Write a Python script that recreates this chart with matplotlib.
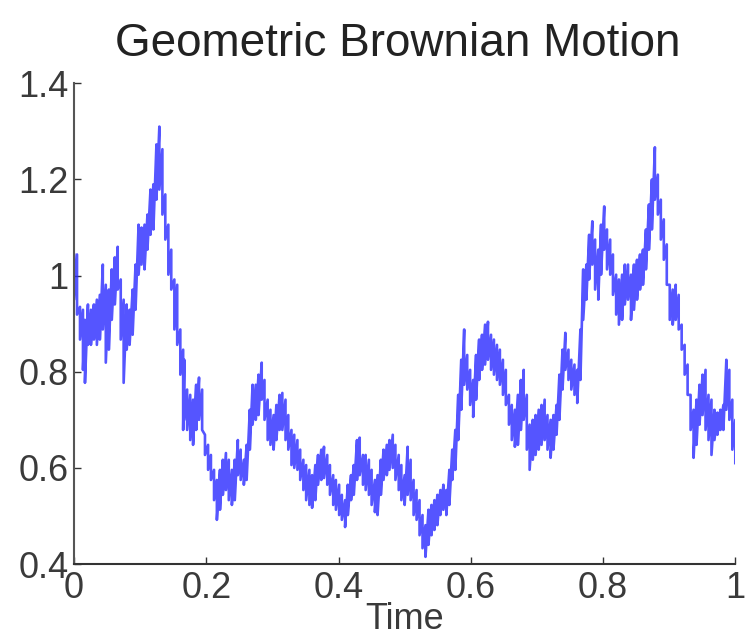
import numpy as np
import matplotlib
matplotlib.use("Agg")
import matplotlib.pyplot as plt


## Path: for each time, the top and bottom of the noisy band
t = [0.000, 0.0045, 0.009, 0.0135, 0.0165, 0.021, 0.0255, 0.030, 0.0345, 0.039,
     0.0435, 0.048, 0.0526, 0.057, 0.0616, 0.066, 0.0706, 0.075, 0.0796, 0.084,
     0.0886, 0.093, 0.0976, 0.102, 0.1066, 0.111, 0.1156, 0.120, 0.1246, 0.129,
     0.1336, 0.138, 0.1426, 0.147, 0.1517, 0.156, 0.1607, 0.165,
     0.1667, 0.171, 0.1757, 0.180, 0.1847, 0.189, 0.1937, 0.198, 0.2027, 0.207,
     0.2117, 0.216, 0.2207, 0.225, 0.2297, 0.234, 0.2387, 0.243, 0.2477, 0.252,
     0.2568, 0.261, 0.2658, 0.270, 0.2748, 0.279, 0.2838, 0.288, 0.2928, 0.297,
     0.3018, 0.306, 0.3108, 0.315, 0.3198, 0.324, 0.3288, 0.333,
     0.3378, 0.342, 0.3468, 0.351, 0.3559, 0.360, 0.3649, 0.369, 0.3739, 0.378,
     0.3829, 0.387, 0.3919, 0.396, 0.4009, 0.405, 0.4099, 0.414, 0.4189, 0.423,
     0.4279, 0.432, 0.4369, 0.441, 0.4459, 0.450, 0.4550, 0.459, 0.4640, 0.468,
     0.4730, 0.477, 0.4820, 0.486, 0.4910, 0.495, 0.500,
     0.5045, 0.509, 0.5135, 0.518, 0.5225, 0.527, 0.5315, 0.536, 0.5405, 0.545,
     0.5495, 0.554, 0.5586, 0.563, 0.5676, 0.572, 0.5766, 0.581, 0.5856, 0.590,
     0.5946, 0.599, 0.6036, 0.608, 0.6126, 0.617, 0.6216, 0.626, 0.6306, 0.635,
     0.6396, 0.644, 0.6486, 0.653, 0.6577, 0.662, 0.6667,
     0.6712, 0.6757, 0.680, 0.6847, 0.689, 0.6937, 0.698, 0.7027, 0.707, 0.7117,
     0.716, 0.7207, 0.725, 0.7297, 0.734, 0.7387, 0.743, 0.7477, 0.752, 0.7568,
     0.761, 0.7658, 0.770, 0.7748, 0.779, 0.7838, 0.788, 0.7928, 0.797, 0.8018,
     0.806, 0.8108, 0.815, 0.8198, 0.824, 0.8288, 0.833, 0.8378,
     0.8423, 0.8468, 0.8514, 0.8559, 0.8604, 0.8649, 0.8694, 0.8739, 0.8784, 0.8829,
     0.8874, 0.8919, 0.8964, 0.9009, 0.9054, 0.9099, 0.9144, 0.9189, 0.9234, 0.9279,
     0.9324, 0.9369, 0.9414, 0.9459, 0.9505, 0.955, 0.9595, 0.964, 0.9685, 0.973,
     0.9775, 0.982, 0.9865, 0.991, 0.9955, 1.000]

upper = [1.044, 1.044, 0.935, 0.929, 0.908, 0.940, 0.929, 0.940, 0.950, 0.960,
         1.023, 0.981, 0.971, 1.013, 1.038, 1.060, 0.992, 0.950, 0.940, 0.929,
         0.971, 1.023, 1.106, 1.100, 1.106, 1.127, 1.179, 1.190, 1.273, 1.310,
         1.263, 1.169, 1.106, 1.054, 0.992, 0.981, 0.888, 0.846,
         0.825, 0.763, 0.752, 0.742, 0.773, 0.788, 0.763, 0.669, 0.648, 0.627,
         0.596, 0.575, 0.596, 0.617, 0.631, 0.617, 0.596, 0.617, 0.658, 0.638,
         0.617, 0.648, 0.721, 0.773, 0.773, 0.794, 0.819, 0.783, 0.742, 0.721,
         0.710, 0.731, 0.752, 0.756, 0.742, 0.710, 0.679, 0.669,
         0.658, 0.638, 0.617, 0.606, 0.596, 0.585, 0.606, 0.627, 0.638, 0.644,
         0.627, 0.606, 0.585, 0.575, 0.565, 0.544, 0.533, 0.565, 0.585, 0.606,
         0.658, 0.663, 0.627, 0.627, 0.617, 0.596, 0.575, 0.585, 0.617, 0.638,
         0.648, 0.658, 0.669, 0.648, 0.627, 0.606, 0.585,
         0.644, 0.617, 0.575, 0.554, 0.533, 0.502, 0.481, 0.513, 0.523, 0.533,
         0.544, 0.554, 0.565, 0.554, 0.596, 0.638, 0.679, 0.752, 0.825, 0.888,
         0.835, 0.804, 0.783, 0.835, 0.867, 0.877, 0.898, 0.904, 0.877, 0.867,
         0.856, 0.846, 0.825, 0.804, 0.752, 0.731, 0.721,
         0.752, 0.783, 0.804, 0.752, 0.690, 0.700, 0.710, 0.721, 0.731, 0.742,
         0.710, 0.700, 0.710, 0.731, 0.794, 0.846, 0.881, 0.846, 0.825, 0.815,
         0.804, 0.888, 1.013, 1.023, 1.085, 1.113, 1.075, 1.054, 1.106, 1.144,
         1.096, 1.075, 1.044, 1.002, 0.992, 1.002, 1.023, 1.023,
         1.002, 1.023, 1.033, 1.044, 1.054, 1.096, 1.148, 1.200, 1.267, 1.210,
         1.158, 1.117, 1.065, 0.981, 0.971, 0.981, 0.960, 0.898, 0.856, 0.815,
         0.752, 0.721, 0.742, 0.773, 0.794, 0.804, 0.752, 0.742, 0.721, 0.715,
         0.721, 0.731, 0.825, 0.804, 0.742, 0.700]

lower = [0.950, 0.919, 0.867, 0.804, 0.777, 0.856, 0.856, 0.867, 0.856, 0.867,
         0.888, 0.819, 0.846, 0.908, 0.940, 0.971, 0.867, 0.777, 0.846, 0.856,
         0.877, 0.929, 1.002, 1.023, 1.013, 1.054, 1.085, 1.096, 1.158, 1.179,
         1.127, 1.075, 1.002, 0.971, 0.888, 0.856, 0.794, 0.679,
         0.700, 0.679, 0.658, 0.648, 0.679, 0.700, 0.679, 0.627, 0.596, 0.575,
         0.533, 0.492, 0.513, 0.544, 0.554, 0.533, 0.523, 0.533, 0.585, 0.575,
         0.565, 0.575, 0.638, 0.690, 0.700, 0.710, 0.742, 0.700, 0.658, 0.648,
         0.638, 0.658, 0.679, 0.679, 0.658, 0.638, 0.606, 0.600,
         0.596, 0.575, 0.554, 0.533, 0.523, 0.517, 0.533, 0.565, 0.575, 0.579,
         0.565, 0.544, 0.523, 0.513, 0.502, 0.492, 0.477, 0.502, 0.533, 0.544,
         0.575, 0.585, 0.565, 0.554, 0.544, 0.523, 0.508, 0.502, 0.544, 0.575,
         0.585, 0.596, 0.600, 0.575, 0.554, 0.533, 0.523,
         0.544, 0.533, 0.502, 0.492, 0.460, 0.433, 0.415, 0.440, 0.460, 0.471,
         0.481, 0.502, 0.513, 0.502, 0.523, 0.575, 0.596, 0.658, 0.721, 0.773,
         0.763, 0.731, 0.706, 0.742, 0.783, 0.804, 0.815, 0.825, 0.804, 0.794,
         0.783, 0.773, 0.752, 0.731, 0.690, 0.658, 0.644,
         0.648, 0.679, 0.700, 0.638, 0.596, 0.617, 0.627, 0.638, 0.648, 0.658,
         0.638, 0.621, 0.638, 0.669, 0.700, 0.763, 0.804, 0.783, 0.763, 0.752,
         0.735, 0.783, 0.908, 0.950, 0.992, 1.023, 0.971, 0.950, 1.002, 1.054,
         1.013, 1.002, 0.960, 0.919, 0.898, 0.908, 0.940, 0.950,
         0.908, 0.929, 0.950, 0.971, 0.981, 1.013, 1.054, 1.096, 1.158, 1.127,
         1.075, 1.033, 0.981, 0.908, 0.898, 0.908, 0.888, 0.846, 0.794, 0.752,
         0.679, 0.621, 0.648, 0.690, 0.710, 0.679, 0.658, 0.627, 0.658, 0.669,
         0.679, 0.679, 0.721, 0.700, 0.638, 0.610]

xticks = [0, 0.2, 0.4, 0.6, 0.8, 1]
xtick_labels = ["0", "0.2", "0.4", "0.6", "0.8", "1"]
yticks = [0.4, 0.6, 0.8, 1.0, 1.2, 1.4]
ytick_labels = ["0.4", "0.6", "0.8", "1", "1.2", "1.4"]

## zig-zag through the band: top, bottom, top, bottom ...
path_t = np.repeat(t, 2)
path_v = np.column_stack([upper, lower]).ravel()

plt.rcParams['font.family'] = ['Liberation Sans', 'DejaVu Sans']

fig = plt.figure(figsize=(7.48, 6.41), dpi=100)
ax = fig.add_axes([0.099, 0.12, 0.884, 0.750])
ax.plot(path_t, path_v, color='#2a2aff', lw=1.9, alpha=0.8)

ax.set_xlim(0, 1)
ax.set_ylim(0.4, 1.4)
ax.set_xticks(xticks)
ax.set_xticklabels(xtick_labels)
ax.set_yticks(yticks)
ax.set_yticklabels(ytick_labels)
ax.tick_params(direction='in', length=5, width=1, labelsize=26, colors='#333333')
ax.tick_params(axis='x', pad=5)
ax.tick_params(axis='y', pad=4)
ax.tick_params(labelcolor='#3a3a3a')
for side in ['top', 'right']:
    ax.spines[side].set_visible(False)
ax.spines['left'].set_color('#555555')
ax.spines['bottom'].set_color('#333333')
for side in ['left', 'bottom']:
    ax.spines[side].set_linewidth(1.5)

ax.set_title("Geometric Brownian Motion", fontsize=33, color='#222222', pad=20, x=0.49)
ax.set_xlabel("Time", fontsize=26, color='#3a3a3a', labelpad=-3)

fig.savefig("out.png", dpi=100)
